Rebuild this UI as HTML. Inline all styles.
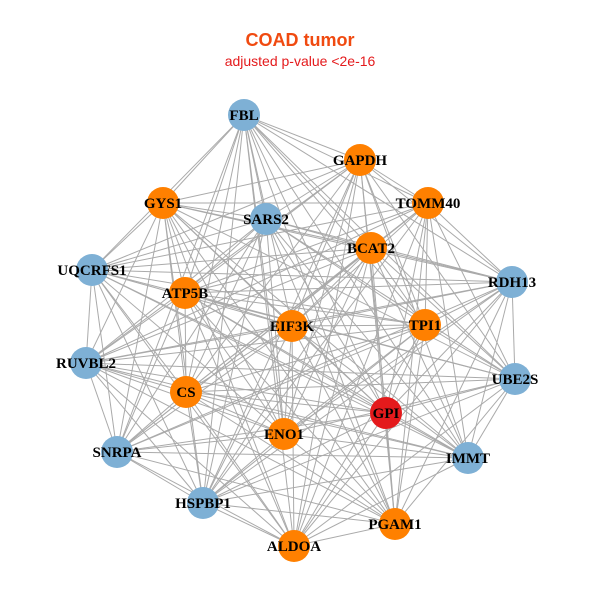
<!DOCTYPE html>
<html><head><meta charset="utf-8"><style>
html,body{margin:0;padding:0;background:#fff;width:600px;height:600px;overflow:hidden}
</style></head><body>
<svg id="g" width="600" height="600" xmlns="http://www.w3.org/2000/svg">
<rect width="600" height="600" fill="#fff"/>
<text x="300" y="46" text-anchor="middle" font-family="Liberation Sans, sans-serif" font-weight="bold" font-size="18" fill="#F04A10">COAD tumor</text>
<text x="300" y="66" text-anchor="middle" font-family="Liberation Sans, sans-serif" font-size="14" fill="#E41A1C">adjusted p-value &lt;2e-16</text>
<g id="edges" stroke="#aaaaaa" stroke-width="1"></g>
<g id="nodes"></g>
</svg>
<script>
var N=[["FBL",244,115,"b"],["GAPDH",360,160,"o"],["GYS1",163,203,"o"],["TOMM40",428,203,"o"],["SARS2",266,219,"b"],["BCAT2",371,248,"o"],["UQCRFS1",92,270,"b"],["RDH13",512,282,"b"],["ATP5B",185,293,"o"],["EIF3K",292,326,"o"],["TPI1",425,325,"o"],["RUVBL2",86,363,"b"],["UBE2S",515,379,"b"],["CS",186,392,"o"],["GPI",386,413,"r"],["ENO1",284,434,"o"],["SNRPA",117,452,"b"],["IMMT",468,458,"b"],["HSPBP1",203,503,"b"],["PGAM1",395,524,"o"],["ALDOA",294,546,"o"]];
var C={b:"#7EB0D5",o:"#FF8000",r:"#E41A1C"};
var ns="http://www.w3.org/2000/svg",E=document.getElementById("edges"),G=document.getElementById("nodes");
for(var i=0;i<N.length;i++)for(var j=i+1;j<N.length;j++){
 if((i*7+j*3)%11==0)continue;
 var l=document.createElementNS(ns,"line");
 l.setAttribute("x1",N[i][1]);l.setAttribute("y1",N[i][2]);l.setAttribute("x2",N[j][1]);l.setAttribute("y2",N[j][2]);E.appendChild(l);}
N.forEach(function(n){
 var c=document.createElementNS(ns,"circle");c.setAttribute("cx",n[1]);c.setAttribute("cy",n[2]);c.setAttribute("r",16);c.setAttribute("fill",C[n[3]]);G.appendChild(c);
 var t=document.createElementNS(ns,"text");t.setAttribute("x",n[1]);t.setAttribute("y",n[2]+5);t.setAttribute("text-anchor","middle");
 t.setAttribute("font-family","Liberation Serif, serif");t.setAttribute("font-weight","bold");t.setAttribute("font-size","15");t.textContent=n[0];G.appendChild(t);});
</script>
</body></html>
